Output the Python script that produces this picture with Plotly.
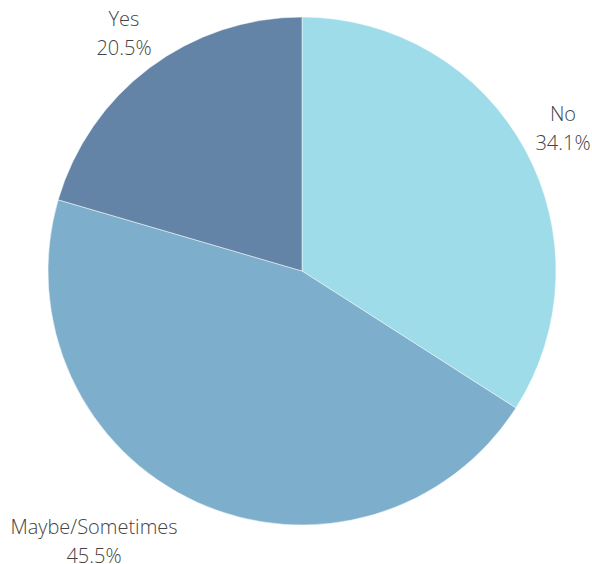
import math
import plotly.graph_objects as go

labels = ["No", "Maybe/Sometimes", "Yes"]
values = [34.1, 45.5, 20.5]
colors = ["#9ddce8", "#7daecb", "#6384a7"]
label_xanchor = ["center", "right", "center"]

W, H = 592, 564
CX, CY = 302, 271          # pie centre in pixels (from top-left)
R = 254                    # pie radius in pixels
LABEL_DIST = 297           # distance of label anchor from centre
LINE_GAP = 14.5            # half the spacing between the two label lines
LABEL_BOX = 166            # common width of a label's two lines

fig = go.Figure(
    go.Pie(
        labels=labels,
        values=values,
        sort=False,
        direction="clockwise",
        rotation=0,
        domain=dict(x=[(CX - R) / W, (CX + R) / W],
                    y=[1 - (CY + R) / H, 1 - (CY - R) / H]),
        marker=dict(colors=colors, line=dict(color="#ffffff", width=0.5)),
        textinfo="none",
        showlegend=False,
        hoverinfo="label+percent",
    )
)

# Outside labels: name above, percentage below, placed along each slice's mid-angle
total = sum(values)
cum = 0.0
font = dict(family="Open Sans", size=20, color="#444444", weight=300)
for name, val, xa in zip(labels, values, label_xanchor):
    mid = (cum + val / 2) / total * 2 * math.pi
    cum += val
    dx = LABEL_DIST * math.sin(mid)
    dy = LABEL_DIST * math.cos(mid)
    pct = f"{val / total * 100:.1f}%"
    for text, off in ((name, LINE_GAP), (pct, -LINE_GAP)):
        fig.add_annotation(
            x=CX / W, y=1 - CY / H, xref="paper", yref="paper",
            xshift=dx, yshift=dy + off,
            text=text, showarrow=False,
            width=LABEL_BOX, align="center",
            xanchor=xa, yanchor="middle",
            font=font,
        )

fig.update_layout(
    width=W,
    height=H,
    margin=dict(l=0, r=0, t=0, b=0),
    paper_bgcolor="#ffffff",
)

fig.write_html("out.html")
